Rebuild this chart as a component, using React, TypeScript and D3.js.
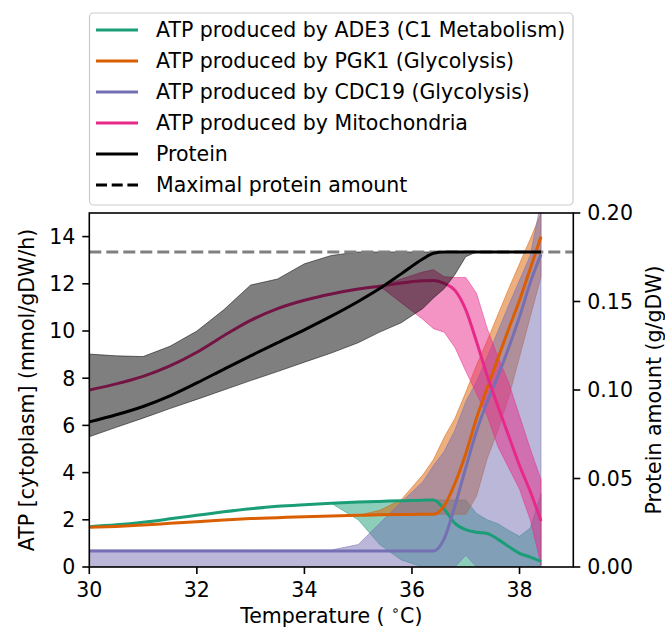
import React from "react";
import * as d3 from "d3";

const temps = [30, 30.5, 31, 31.5, 32, 32.5, 33, 33.5, 34, 34.5, 35, 35.4, 35.8, 36.2, 36.4, 36.6, 36.8, 37.0, 37.2, 37.4, 37.6, 37.8, 38.0, 38.2, 38.4];

// ATP (mmol/gDW/h)
const ade3 = [1.71, 1.79, 1.9, 2.04, 2.19, 2.34, 2.47, 2.57, 2.64, 2.7, 2.75, 2.78, 2.81, 2.83, 2.84, 2.45, 1.85, 1.58, 1.47, 1.42, 1.17, 0.87, 0.58, 0.42, 0.24];
const ade3Low = [1.71, 1.79, 1.9, 2.04, 2.19, 2.34, 2.47, 2.57, 2.64, 2.7, 2.0, 0.95, 0.3, 0, 0, 0, 0, 0, 0, 0, 0, 0, 0, 0, 0];
const ade3High = [1.71, 1.79, 1.9, 2.04, 2.19, 2.34, 2.47, 2.57, 2.64, 2.7, 2.75, 2.78, 2.81, 2.83, 2.84, 2.84, 2.84, 2.84, 2.27, 2.0, 1.83, 1.55, 1.3, 1.65, 3.1];

const pgk1 = [1.68, 1.72, 1.78, 1.85, 1.92, 1.99, 2.05, 2.09, 2.13, 2.16, 2.19, 2.21, 2.22, 2.23, 2.23, 2.6, 3.55, 4.8, 6.3, 7.6, 8.85, 10.1, 11.3, 12.65, 14.0];
const pgk1Low = [1.68, 1.72, 1.78, 1.85, 1.92, 1.99, 2.05, 2.09, 2.13, 2.16, 2.19, 2.21, 2.22, 2.23, 2.23, 2.23, 2.23, 2.23, 3.0, 4.6, 5.8, 7.2, 8.9, 10.6, 12.3];
const pgk1High = [1.68, 1.72, 1.78, 1.85, 1.92, 1.99, 2.05, 2.09, 2.13, 2.16, 2.19, 2.4, 2.85, 3.9, 4.55, 5.5, 6.3, 7.4, 8.55, 9.6, 10.7, 11.8, 12.85, 13.9, 15.0];

const cdc19 = [0.68, 0.68, 0.68, 0.68, 0.68, 0.68, 0.68, 0.68, 0.68, 0.68, 0.68, 0.68, 0.68, 0.68, 0.68, 1.2, 2.6, 4.2, 5.75, 7.0, 8.1, 9.3, 10.6, 12.05, 13.25];
const cdc19Low = [0, 0, 0, 0, 0, 0, 0, 0, 0, 0, 0, 0, 0, 0, 0, 0, 0, 0.5, 0, 0, 0, 0, 0, 0, 0];
const cdc19High = [0.72, 0.72, 0.72, 0.72, 0.72, 0.72, 0.72, 0.72, 0.72, 0.72, 0.95, 1.85, 2.75, 3.6, 4.3, 4.9, 5.8, 7.0, 7.85, 8.9, 10.0, 11.1, 12.15, 13.2, 15.5];

const mito = [7.5, 7.76, 8.08, 8.52, 9.1, 9.8, 10.45, 10.95, 11.3, 11.57, 11.78, 11.9, 12.03, 12.13, 12.14, 12.02, 11.72, 10.9, 9.55, 8.1, 6.8, 5.55, 4.3, 3.2, 1.95];
const mitoLow = [7.5, 7.76, 8.08, 8.52, 9.1, 9.8, 10.45, 10.95, 11.3, 11.57, 11.78, 11.9, 11.2, 10.5, 10.1, 9.95, 9.3, 8.3, 7.35, 6.4, 5.1, 4.2, 3.3, 2.0, 0.1];
const mitoHigh = [7.5, 7.76, 8.08, 8.52, 9.1, 9.8, 10.45, 10.95, 11.3, 11.57, 11.78, 11.9, 12.2, 12.5, 12.6, 12.3, 12.27, 12.27, 11.6, 10.1, 8.9, 7.8, 6.4, 5.0, 3.7];

// Protein (g/gDW)
const protein = [0.082, 0.086, 0.0907, 0.0967, 0.104, 0.1117, 0.1193, 0.1267, 0.134, 0.1417, 0.15, 0.1573, 0.1656, 0.174, 0.1773, 0.178, 0.178, 0.178, 0.178, 0.178, 0.178, 0.178, 0.178, 0.178, 0.178];
const proteinLow = [0.0736, 0.0789, 0.0841, 0.0895, 0.0947, 0.1, 0.1053, 0.1104, 0.1157, 0.1209, 0.1267, 0.1327, 0.138, 0.146, 0.152, 0.1573, 0.1653, 0.1753, 0.178, 0.178, 0.178, 0.178, 0.178, 0.178, 0.178];
const proteinHigh = [0.1203, 0.1193, 0.1189, 0.1247, 0.1333, 0.1453, 0.1593, 0.1627, 0.1713, 0.176, 0.178, 0.178, 0.178, 0.178, 0.178, 0.178, 0.178, 0.178, 0.178, 0.178, 0.178, 0.178, 0.178, 0.178, 0.178];
const maxProtein = 0.178;

const xTicks = [30, 32, 34, 36, 38];
const yLeftTicks = [0, 2, 4, 6, 8, 10, 12, 14];
const yRightTicks = [0, 0.05, 0.1, 0.15, 0.2];

const legendLabels = [
  "ATP produced by ADE3 (C1 Metabolism)",
  "ATP produced by PGK1 (Glycolysis)",
  "ATP produced by CDC19 (Glycolysis)",
  "ATP produced by Mitochondria",
  "Protein",
  "Maximal protein amount",
];
const colors = ["#1b9e77", "#d95f02", "#7570b3", "#e7298a", "#000000", "#000000"];

const W = 665;
const H = 634;
const L = 89.3, R = 573.3, T = 213, B = 567;
const FS = 20.5;
const FONT = "DejaVu Sans, sans-serif";

export default function App() {
  const x = d3.scaleLinear().domain([30, 39]).range([L, R]);
  const yL = d3.scaleLinear().domain([0, 15]).range([B, T]);
  const yR = d3.scaleLinear().domain([0, 0.2]).range([B, T]);

  const idx = temps.map((_, i) => i);
  const lineGen = (vals: number[], ys: d3.ScaleLinear<number, number>) =>
    d3.line<number>().x((i) => x(temps[i])).y((i) => ys(vals[i])).curve(d3.curveMonotoneX)(idx) || "";
  const areaGen = (lo: number[], hi: number[], ys: d3.ScaleLinear<number, number>) =>
    d3.area<number>().x((i) => x(temps[i])).y0((i) => ys(lo[i])).y1((i) => ys(hi[i]))(idx) || "";

  const atp = [
    { v: ade3, lo: ade3Low, hi: ade3High, c: colors[0] },
    { v: pgk1, lo: pgk1Low, hi: pgk1High, c: colors[1] },
    { v: cdc19, lo: cdc19Low, hi: cdc19High, c: colors[2] },
    { v: mito, lo: mitoLow, hi: mitoHigh, c: colors[3] },
  ];

  const rowY = (i: number) => 30 + i * 31;

  return (
    <svg width={W} height={H} style={{ position: "absolute", left: 0, top: 0, background: "#fff" }} fontFamily={FONT}>
      <defs>
        <clipPath id="plotclip">
          <rect x={L} y={T} width={R - L} height={B - T} />
        </clipPath>
      </defs>
      <rect x={0} y={0} width={W} height={H} fill="#fff" />
      <g clipPath="url(#plotclip)">
        {atp.map((s, k) => (
          <path key={"a" + k} d={areaGen(s.lo, s.hi, yL)} fill={s.c} fillOpacity={0.5} stroke={s.c} strokeOpacity={0.5} strokeWidth={1} />
        ))}
        {atp.map((s, k) => (
          <path key={"l" + k} d={lineGen(s.v, yL)} fill="none" stroke={s.c} strokeWidth={3} />
        ))}
        <path d={areaGen(proteinLow, proteinHigh, yR)} fill="#000" fillOpacity={0.5} stroke="#000" strokeOpacity={0.5} strokeWidth={1} />
        <line x1={L} x2={R} y1={yR(maxProtein)} y2={yR(maxProtein)} stroke="#808080" strokeWidth={3} strokeDasharray="12,5" />
        <path d={lineGen(protein, yR)} fill="none" stroke="#000" strokeWidth={3} />
      </g>
      <rect x={L} y={T} width={R - L} height={B - T} fill="none" stroke="#000" strokeWidth={1.6} />
      {xTicks.map((t) => (
        <g key={"x" + t}>
          <line x1={x(t)} x2={x(t)} y1={B} y2={B + 7} stroke="#000" strokeWidth={1.6} />
          <text x={x(t)} y={B + 14} dy="0.76em" textAnchor="middle" fontSize={FS} fill="#000">{t}</text>
        </g>
      ))}
      {yLeftTicks.map((t) => (
        <g key={"yl" + t}>
          <line x1={L - 7} x2={L} y1={yL(t)} y2={yL(t)} stroke="#000" strokeWidth={1.6} />
          <text x={L - 14} y={yL(t)} dy="0.36em" textAnchor="end" fontSize={FS} fill="#000">{t}</text>
        </g>
      ))}
      {yRightTicks.map((t) => (
        <g key={"yr" + t}>
          <line x1={R} x2={R + 7} y1={yR(t)} y2={yR(t)} stroke="#000" strokeWidth={1.6} />
          <text x={R + 14} y={yR(t)} dy="0.36em" textAnchor="start" fontSize={FS} fill="#000">{d3.format(".2f")(t)}</text>
        </g>
      ))}
      <text x={(L + R) / 2} y={623} textAnchor="middle" fontSize={FS} fill="#000">
        {"Temperature ( "}<tspan fontSize={FS * 0.7} dy={-8}>∘</tspan><tspan dy={8}>C)</tspan>
      </text>
      <text transform={`translate(27,${(T + B) / 2}) rotate(-90)`} dy="0.36em" textAnchor="middle" fontSize={FS} fill="#000">
        ATP [cytoplasm] (mmol/gDW/h)
      </text>
      <text transform={`translate(654,${(T + B) / 2}) rotate(-90)`} dy="0.36em" textAnchor="middle" fontSize={FS} fill="#000">
        Protein amount (g/gDW)
      </text>
      <rect x={89.5} y={13} width={483.5} height={192} rx={4} fill="#fff" fillOpacity={0.8} stroke="#cccccc" strokeWidth={1.2} />
      {legendLabels.map((lab, i) => (
        <g key={"lg" + i}>
          <line x1={96} x2={138} y1={rowY(i)} y2={rowY(i)} stroke={colors[i]} strokeWidth={3} strokeDasharray={i === 5 ? "11,4.7" : undefined} />
          <text x={156} y={rowY(i)} dy="0.36em" fontSize={FS} fill="#000">{lab}</text>
        </g>
      ))}
    </svg>
  );
}
